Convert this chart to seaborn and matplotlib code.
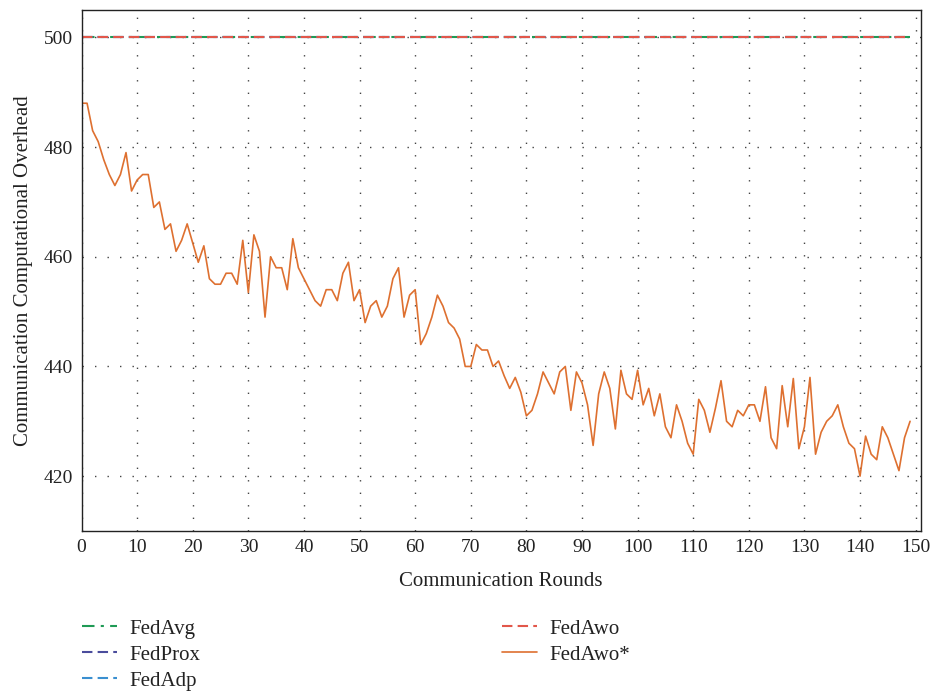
import numpy as np
import pandas as pd
import matplotlib
matplotlib.use("Agg")
import matplotlib.pyplot as plt
import seaborn as sns

rounds = list(range(150))
fedawo_star = [
    488, 488, 483, 481, 477.7, 475, 473, 475, 479, 472,
    474, 475, 475, 469, 470, 465, 466, 461, 463, 466,
    462.5, 459, 462, 456, 455, 455, 457, 457, 455, 463,
    453.5, 464, 461, 449, 460, 458, 458, 454, 463.3, 458,
    456, 454, 452, 451, 454, 454, 452, 457, 459, 452,
    454, 448, 451, 452, 449, 451, 456, 458, 449, 453,
    454, 444, 446, 449, 453, 451, 448, 447, 445, 440,
    440, 444, 443, 443, 440, 441, 438.3, 436, 438, 435.3,
    431, 432, 435, 439, 437, 435, 439, 440, 432, 439,
    437, 433, 425.6, 435, 439, 436, 428.6, 439.3, 435, 434,
    439.3, 433, 436, 431, 435, 429, 427, 433, 430, 426,
    424, 434, 432, 428, 432.4, 437.4, 430, 429, 432, 431,
    433, 433, 430, 436.3, 427, 425, 436.5, 429, 437.8, 425,
    429, 438, 424, 428, 430, 431, 433, 429, 426, 425,
    420, 427.3, 424, 423, 429, 427, 424, 421, 427, 430,
]
fedavg = [500] * 150
fedprox = [500] * 150
fedadp = [500] * 150
fedawo = [500] * 150

xticks = list(range(0, 151, 10))
yticks = [420, 440, 460, 480, 500]

series = [
    ("FedAvg", fedavg, "#1f9a55", (0, (6, 3, 1.5, 3)), 1.5),
    ("FedProx", fedprox, "#4a4c9c", (0, (5, 2.5)), 1.5),
    ("FedAdp", fedadp, "#3a8fd0", (0, (5, 2.5)), 1.5),
    ("FedAwo", fedawo, "#e2574a", (0, (5, 2.5)), 1.5),
    ("FedAwo*", fedawo_star, "#de7030", "-", 1.2),
]

sns.set_theme(style="white")
plt.rcParams["font.family"] = ["Liberation Serif", "DejaVu Serif"]

fig = plt.figure(figsize=(9.38, 6.91), dpi=100)
ax = fig.add_axes([0.0869, 0.2316, 0.8946, 0.7539])

for name, vals, col, ls, lw in series:
    df = pd.DataFrame({"round": rounds, "value": vals})
    sns.lineplot(data=df, x="round", y="value", ax=ax, color=col,
                 linestyle=ls, linewidth=lw, label=name)

ax.set_xlim(0, 150.9)
ax.set_ylim(410, 505)
ax.set_xticks(xticks)
ax.set_yticks(yticks)
ax.tick_params(axis="both", labelsize=14, colors="#222222", direction="in",
               length=3, width=0.8, pad=6)
for s in ax.spines.values():
    s.set_visible(True)
    s.set_color("#222222")
    s.set_linewidth(1.0)

ax.grid(True, color="#444444", linestyle=(0, (1, 8)), linewidth=1.0)
ax.set_axisbelow(True)

ax.set_xlabel("Communication Rounds", fontsize=15, color="#222222", labelpad=11)
ax.set_ylabel("Communication Computational Overhead", fontsize=15,
              color="#222222", labelpad=8)

handles, labels = ax.get_legend_handles_labels()
ax.legend_.remove()
fig.legend(handles, labels, loc="upper left", bbox_to_anchor=(0.0874, 1 - 619 / 691),
           ncol=2, frameon=False, fontsize=15, borderpad=0, borderaxespad=0,
           handlelength=1.68, handletextpad=0.58, columnspacing=14.5,
           labelspacing=0.31, labelcolor="#222222")

fig.savefig("out.png", dpi=100, facecolor="white")
